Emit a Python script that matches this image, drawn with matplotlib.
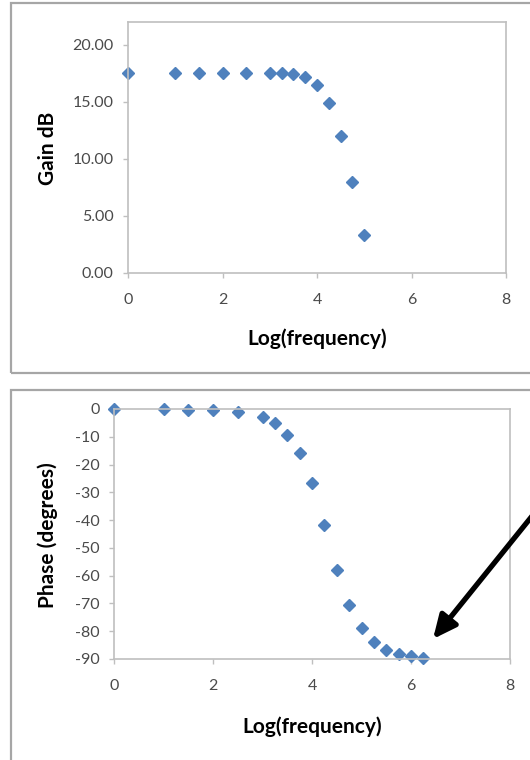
import matplotlib.pyplot as plt
from matplotlib.patches import Rectangle

# gain curve
gain_x = [0, 1, 1.5, 2, 2.5, 3, 3.25, 3.5, 3.75, 4, 4.25, 4.5, 4.75, 5]
gain_db = [17.5, 17.5, 17.5, 17.5, 17.5, 17.5, 17.5, 17.45, 17.15, 16.5, 14.9, 12.0, 8.0, 3.3]

# phase curve
phase_x = [0, 1, 1.5, 2, 2.5, 3, 3.25, 3.5, 3.75, 4, 4.25, 4.5, 4.75, 5,
           5.25, 5.5, 5.75, 6, 6.25]
phase_deg = [0, 0, -0.2, -0.4, -1.1, -3.0, -5.2, -9.2, -15.8, -26.7, -41.9, -58.0,
             -70.7, -79.0, -83.9, -86.6, -88.3, -89.0, -89.5]

gain_yticks = [0, 5, 10, 15, 20]
phase_yticks = [0, -10, -20, -30, -40, -50, -60, -70, -80, -90]
x_ticks = [0, 2, 4, 6, 8]

W, H = 530, 760
blue = '#4F81BD'
axis_grey = '#BFBFBF'
text_grey = '#4A4A4A'
font = ['Lato', 'DejaVu Sans']

plt.rcParams['axes.unicode_minus'] = False  # plain hyphen like the original

fig = plt.figure(figsize=(W / 100, H / 100), dpi=100)


def px_axes(x0, y0, x1, y1):
    # pixel box (top-left origin) -> figure fraction
    return fig.add_axes([x0 / W, 1 - y1 / H, (x1 - x0) / W, (y1 - y0) / H])


def style(ax):
    for s in ax.spines.values():
        s.set_color(axis_grey)
        s.set_linewidth(1.2)
    ax.tick_params(axis='both', direction='out', length=3.5, width=1,
                   color=axis_grey, labelcolor=text_grey, labelsize=11.5)
    ax.tick_params(axis='x', pad=11)
    ax.tick_params(axis='y', pad=7)
    for lab in ax.get_xticklabels() + ax.get_yticklabels():
        lab.set_family(font)


def labels(ax, xlab, ylab, xpos, ypos):
    ax.set_xlabel(xlab, family=font, fontsize=15, fontweight='bold', va='center')
    ax.set_ylabel(ylab, family=font, fontsize=15, fontweight='bold', va='center')
    ax.xaxis.set_label_coords(*xpos)
    ax.yaxis.set_label_coords(*ypos)


# outer chart borders
fig.patches.append(Rectangle((11 / W, 1 - 373 / H), 1.0, 370 / H, transform=fig.transFigure,
                             fill=False, edgecolor='#A6A6A6', linewidth=1.6))
fig.patches.append(Rectangle((11 / W, -0.05), 1.0, (1 - 390 / H) + 0.05, transform=fig.transFigure,
                             fill=False, edgecolor='#A6A6A6', linewidth=1.6))

# top: gain
ax1 = px_axes(128, 22, 506, 273)
ax1.plot(gain_x, gain_db, 'D', color=blue, markersize=6.3, clip_on=False)
ax1.set_xlim(0, 8)
ax1.set_ylim(0, 22)
ax1.set_xticks(x_ticks)
ax1.set_yticks(gain_yticks)
ax1.set_yticklabels([f'{v:.2f}' for v in gain_yticks])
style(ax1)
labels(ax1, 'Log(frequency)', 'Gain dB', (0.5, -0.263), (-0.212, 0.498))

# bottom: phase
ax2 = px_axes(114, 409, 510, 659)
ax2.plot(phase_x, phase_deg, 'D', color=blue, markersize=6.3, clip_on=False)
ax2.set_xlim(0, 8)
ax2.set_ylim(-90, 0)
ax2.set_xticks(x_ticks)
ax2.set_yticks(phase_yticks)
style(ax2)
labels(ax2, 'Log(frequency)', 'Phase (degrees)', (0.5, -0.272), (-0.167, 0.496))

# arrow pointing at the last phase point
ax2.annotate('', xy=(433 / W, 1 - 639 / H), xycoords='figure fraction',
             xytext=(545 / W, 1 - 500 / H), textcoords='figure fraction',
             arrowprops=dict(arrowstyle='-|>,head_length=1.4,head_width=0.65',
                             color='black', linewidth=3.8, shrinkA=0, shrinkB=0),
             annotation_clip=False)

fig.savefig('out.png', dpi=100)
